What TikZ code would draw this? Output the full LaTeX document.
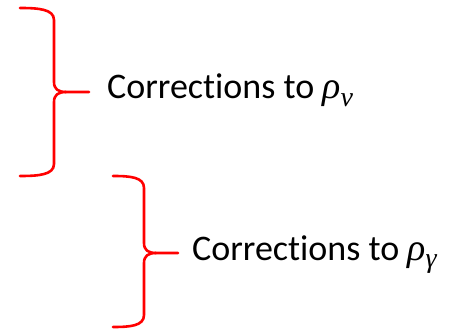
\documentclass[tikz,border=0pt]{standalone}
\usepackage{fontspec}
\setmainfont{Carlito}[Ligatures=NoCommon]
\newfontfamily\greekit{Liberation Serif}[UprightFont=* Italic]
\newcommand{\symsub}[2]{{\fontsize{38}{40}\selectfont\greekit #1}\raisebox{-0.2em}{\fontsize{28}{28}\selectfont\greekit #2}}
\begin{document}
\begin{tikzpicture}[x=1pt,y=-1pt,
  bracepath/.style={draw=red, line width=2.6pt, line cap=round, line join=round},
  label/.style={anchor=base west, inner sep=0pt, font=\fontsize{36}{40}\selectfont}]
\useasboundingbox (0,0) rectangle (452,331);

% upper brace
\coordinate (tipA) at (89,92);
\draw[bracepath] (20,8) .. controls (38,8) and (54,9) .. (54,20)
  -- (54,82) .. controls (54,89) and (58,92) .. (66,92) -- (tipA);
\draw[bracepath] (20,176) .. controls (38,176) and (54,175) .. (54,164)
  -- (54,102) .. controls (54,95) and (58,92) .. (66,92);
\node[label] (corrA) at (107,99) {Corrections to \symsub{ρ}{ν}};

% lower brace
\coordinate (tipB) at (178,253);
\draw[bracepath] (113,176) .. controls (130,176) and (144,177) .. (144,188)
  -- (144,243) .. controls (144,250) and (148,253) .. (156,253) -- (tipB);
\draw[bracepath] (113,327) .. controls (130,327) and (144,326) .. (144,315)
  -- (144,263) .. controls (144,256) and (148,253) .. (156,253);
\node[label] (corrB) at (192,260) {Corrections to \symsub{ρ}{γ}};
\end{tikzpicture}
\end{document}
